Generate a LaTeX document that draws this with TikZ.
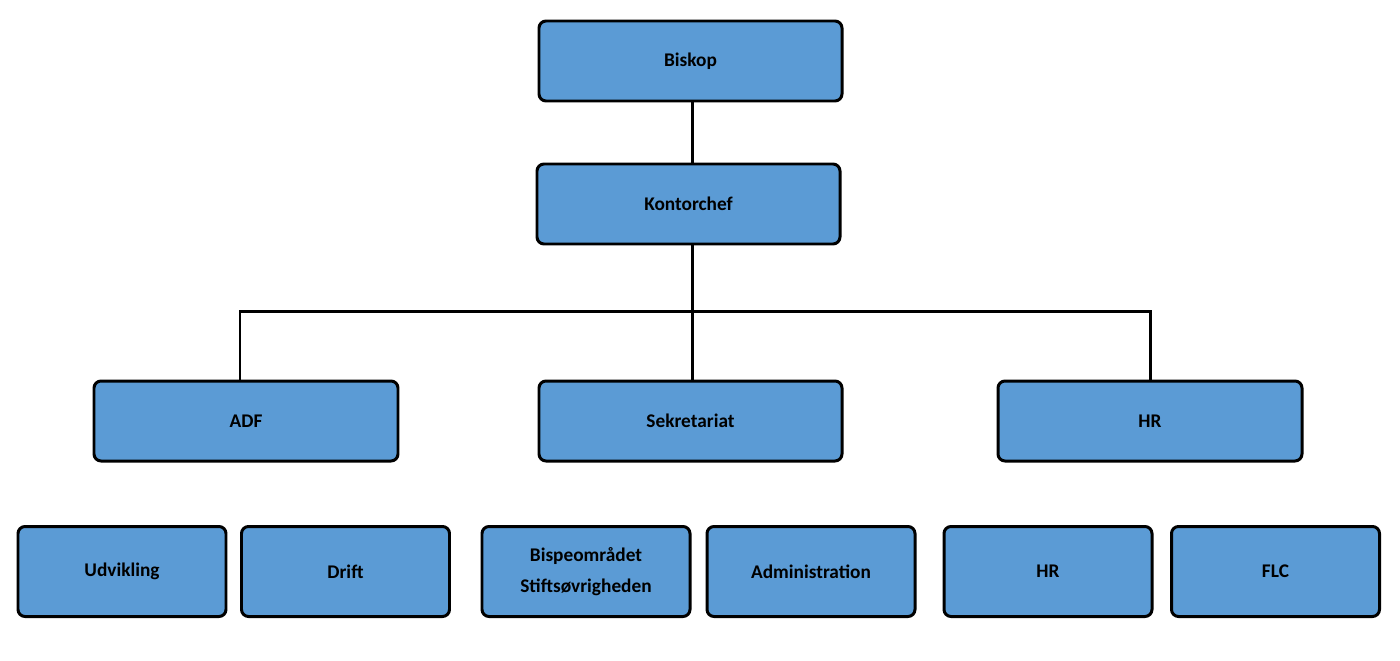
\documentclass[tikz,border=0pt]{standalone}
\usepackage{fontspec}
\setmainfont{Carlito}
\begin{document}
\begin{tikzpicture}[x=0.02cm,y=-0.02cm,
  box/.style={draw=black,line width=1.7pt,fill=boxblue,rounded corners=4pt,inner sep=0pt,font=\fontsize{11}{18}\selectfont\bfseries,align=center},
  conn/.style={line width=1.7pt}]
\definecolor{boxblue}{HTML}{5B9BD5}
\useasboundingbox (0,0) rectangle (1400,660);
\node[box,minimum width=303*0.02cm,minimum height=80*0.02cm] (bis) at (690.5,61) {Biskop};
\node[box,minimum width=303*0.02cm,minimum height=80*0.02cm] (kon) at (688.5,204) {Kontorchef};
\node[box,minimum width=304*0.02cm,minimum height=80*0.02cm] (adf) at (246,421) {ADF};
\node[box,minimum width=303*0.02cm,minimum height=80*0.02cm] (sek) at (690.5,421) {Sekretariat};
\node[box,minimum width=304*0.02cm,minimum height=80*0.02cm] (hr) at (1150,421) {HR};
\foreach \n/\x/\t in {udv/122/Udvikling,dri/345.5/Drift,bsp/586/{Bispeområdet\\Stiftsøvrigheden},adm/811/Administration,hr2/1048/HR,flc/1275.5/FLC}
  \node[box,minimum width=208*0.02cm,minimum height=90*0.02cm] (\n) at (\x,571.5) {\t};
\coordinate (j) at (692,311);
\coordinate (jl) at (240,311);
\coordinate (jr) at (1150,311);
\draw[conn] (bis.south -| j) -- (kon.north -| j);
\draw[conn] (kon.south -| j) -- (j) -- (sek.north -| j);
\draw[conn] (adf.north -| jl) -- (jl) -- (jr) -- (hr.north -| jr);
\end{tikzpicture}
\end{document}
